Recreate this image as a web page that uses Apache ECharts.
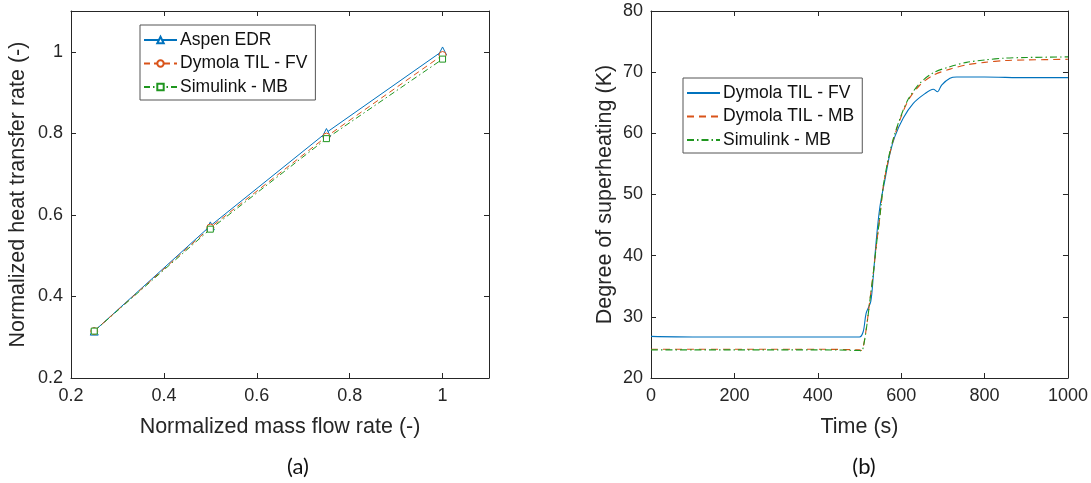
<!DOCTYPE html>
<html>
<head>
<meta charset="utf-8">
<script src="https://cdn.jsdelivr.net/npm/echarts@6/dist/echarts.min.js"></script>
<style>html,body{margin:0;padding:0;background:#fff;}#c{width:1091px;height:483px;}</style>
</head>
<body>
<div id="c"></div>
<script>
// ---- Panel (a) data ----
const massFlow = [0.25, 0.5, 0.75, 1.0];
const aspenEDR = [0.315, 0.573, 0.802, 1.002];
const dymolaFV_a = [0.315, 0.569, 0.792, 0.992];
const simulinkMB_a = [0.315, 0.565, 0.787, 0.982];
const namesA = ['Aspen EDR', 'Dymola TIL - FV', 'Simulink - MB'];

// ---- Panel (b) data ----
const timeFV = [0, 100, 200, 300, 400, 500, 509, 516, 527, 533, 541, 549, 561, 573, 585, 605, 629, 657, 677, 687, 697, 717, 733, 800, 900, 1000];
const dymolaFV_b = [26.8, 26.7, 26.7, 26.7, 26.7, 26.7, 27.6, 30.6, 32.5, 36.6, 43.1, 48.0, 52.4, 56.7, 59.5, 62.5, 64.9, 66.5, 67.2, 66.8, 67.9, 69.0, 69.2, 69.2, 69.1, 69.1];
const timeMB = [0, 100, 200, 300, 400, 500, 505, 509, 517, 525, 533, 541, 549, 557, 569, 581, 597, 617, 645, 677, 717, 757, 800, 850, 900, 1000];
const dymolaMB = [24.7, 24.7, 24.7, 24.7, 24.7, 24.6, 24.5, 25.1, 28.4, 32.8, 37.1, 42.0, 46.4, 51.3, 55.6, 58.9, 62.2, 65.4, 67.9, 69.5, 70.5, 71.2, 71.6, 71.9, 72.0, 72.1];
const simulinkMB_b = [24.6, 24.6, 24.6, 24.6, 24.6, 24.5, 24.4, 25.0, 28.3, 32.7, 37.0, 42.0, 46.5, 51.4, 55.8, 59.1, 62.4, 65.6, 68.2, 69.9, 70.9, 71.6, 72.0, 72.3, 72.4, 72.5];
const namesB = ['Dymola TIL - FV', 'Dymola TIL - MB', 'Simulink - MB'];

// ---- axis ticks ----
const xTicksA = {min: 0.2, max: 1.1, interval: 0.2};
const yTicksA = {min: 0.2, max: 1.1, interval: 0.2};
const xTicksB = {min: 0, max: 1000, interval: 200};
const yTicksB = {min: 20, max: 80, interval: 10};

const C_BLUE = '#0072BD', C_ORANGE = '#D95319', C_GREEN = '#1f961f';
const AX = '#262626';
const FONT = 'Liberation Sans';
const TICK_FS = 18, NAME_FS = 21.5;

function pairs(xs, ys) { return xs.map((x, i) => [x, ys[i]]); }
function maxOnTick(t) {
  const k = (t.max - t.min) / t.interval;
  return Math.abs(k - Math.round(k)) < 1e-6;
}
function fmt(v) { return String(+v.toFixed(6)); }

function mkX(gridIndex, t, pos, label, name) {
  return {
    type: 'value', gridIndex, position: pos, min: t.min, max: t.max, interval: t.interval,
    name: name || '', nameLocation: 'middle', nameGap: 38,
    nameTextStyle: {fontFamily: FONT, fontSize: NAME_FS, color: AX},
    axisLine: {show: true, onZero: false, lineStyle: {color: AX, width: 1}},
    axisTick: {show: true, inside: true, length: 5, lineStyle: {color: AX}},
    axisLabel: {show: label, showMaxLabel: maxOnTick(t), formatter: fmt, fontFamily: FONT, fontSize: TICK_FS, color: AX, margin: 9},
    splitLine: {show: false}
  };
}
function mkY(gridIndex, t, pos, label, name, gap) {
  return {
    type: 'value', gridIndex, position: pos, min: t.min, max: t.max, interval: t.interval,
    name: name || '', nameLocation: 'middle', nameGap: gap || 40,
    nameTextStyle: {fontFamily: FONT, fontSize: NAME_FS, color: AX},
    axisLine: {show: true, onZero: false, lineStyle: {color: AX, width: 1}},
    axisTick: {show: true, inside: true, length: 5, lineStyle: {color: AX}},
    axisLabel: {show: label, showMaxLabel: maxOnTick(t), formatter: fmt, fontFamily: FONT, fontSize: TICK_FS, color: AX, margin: 8},
    splitLine: {show: false}
  };
}

const legendCommon = {
  orient: 'vertical', backgroundColor: '#fff', borderColor: '#555', borderWidth: 1,
  padding: [6, 8, 4, 3], itemGap: 5.5, itemWidth: 33, itemHeight: 8,
  textStyle: {fontFamily: FONT, fontSize: 17.5, color: '#111', padding: [0, 0, 0, -2]},
  selectedMode: false
};

const option = {
  animation: false,
  backgroundColor: '#fff',
  title: [
    {text: '(a)', left: 293, top: 451, textAlign: 'center', textStyle: {fontFamily: 'Lato', fontSize: 22, fontWeight: 'normal', color: '#111'}},
    {text: '(b)', left: 859, top: 451, textAlign: 'center', textStyle: {fontFamily: 'Lato', fontSize: 22, fontWeight: 'normal', color: '#111'}}
  ],
  grid: [
    {left: 71, top: 11, width: 418, height: 367},
    {left: 651, top: 11, width: 417, height: 367}
  ],
  xAxis: [
    mkX(0, xTicksA, 'bottom', true, 'Normalized mass flow rate (-)'),
    mkX(0, xTicksA, 'top', false),
    mkX(1, xTicksB, 'bottom', true, 'Time (s)'),
    mkX(1, xTicksB, 'top', false)
  ],
  yAxis: [
    mkY(0, yTicksA, 'left', true, 'Normalized heat transfer rate (-)', 42),
    mkY(0, yTicksA, 'right', false),
    mkY(1, yTicksB, 'left', true, 'Degree of superheating (K)', 35),
    mkY(1, yTicksB, 'right', false)
  ],
  legend: [
    Object.assign({}, legendCommon, {left: 140, top: 25,
      data: namesA.map(n => 'a:' + n), formatter: n => n.slice(2)}),
    Object.assign({}, legendCommon, {left: 683, top: 78,
      itemStyle: {opacity: 0},
      data: namesB.map(n => 'b:' + n), formatter: n => n.slice(2)})
  ],
  series: [
    {name: 'a:' + namesA[0], type: 'line', xAxisIndex: 0, yAxisIndex: 0, data: pairs(massFlow, aspenEDR),
      symbol: 'triangle', symbolSize: 8, showAllSymbol: true, itemStyle: {color: '#fff', borderColor: C_BLUE, borderWidth: 1},
      lineStyle: {color: C_BLUE, width: 1}, color: C_BLUE},
    {name: 'a:' + namesA[1], type: 'line', xAxisIndex: 0, yAxisIndex: 0, data: pairs(massFlow, dymolaFV_a),
      symbol: 'circle', symbolSize: 7, itemStyle: {color: '#fff', borderColor: C_ORANGE, borderWidth: 1},
      lineStyle: {color: C_ORANGE, width: 1, type: [6, 4]}, color: C_ORANGE},
    {name: 'a:' + namesA[2], type: 'line', xAxisIndex: 0, yAxisIndex: 0, data: pairs(massFlow, simulinkMB_a),
      symbol: 'rect', symbolSize: 6, itemStyle: {color: '#fff', borderColor: C_GREEN, borderWidth: 1},
      lineStyle: {color: C_GREEN, width: 1, type: [6, 3, 1.5, 3]}, color: C_GREEN},
    {name: 'b:' + namesB[0], type: 'line', xAxisIndex: 2, yAxisIndex: 2, data: pairs(timeFV, dymolaFV_b),
      symbol: 'none', smooth: 0.3, lineStyle: {color: C_BLUE, width: 1.1}, itemStyle: {color: C_BLUE}},
    {name: 'b:' + namesB[1], type: 'line', xAxisIndex: 2, yAxisIndex: 2, data: pairs(timeMB, dymolaMB),
      symbol: 'none', smooth: 0.3, lineStyle: {color: C_ORANGE, width: 1.1, type: [7, 5]}, itemStyle: {color: C_ORANGE}},
    {name: 'b:' + namesB[2], type: 'line', xAxisIndex: 2, yAxisIndex: 2, data: pairs(timeMB, simulinkMB_b),
      symbol: 'none', smooth: 0.3, lineStyle: {color: C_GREEN, width: 1.1, type: [7, 3, 1.5, 3]}, itemStyle: {color: C_GREEN}}
  ]
};

const chart = echarts.init(document.getElementById('c'), null, {renderer: 'canvas'});
chart.setOption(option);
</script>
</body>
</html>
